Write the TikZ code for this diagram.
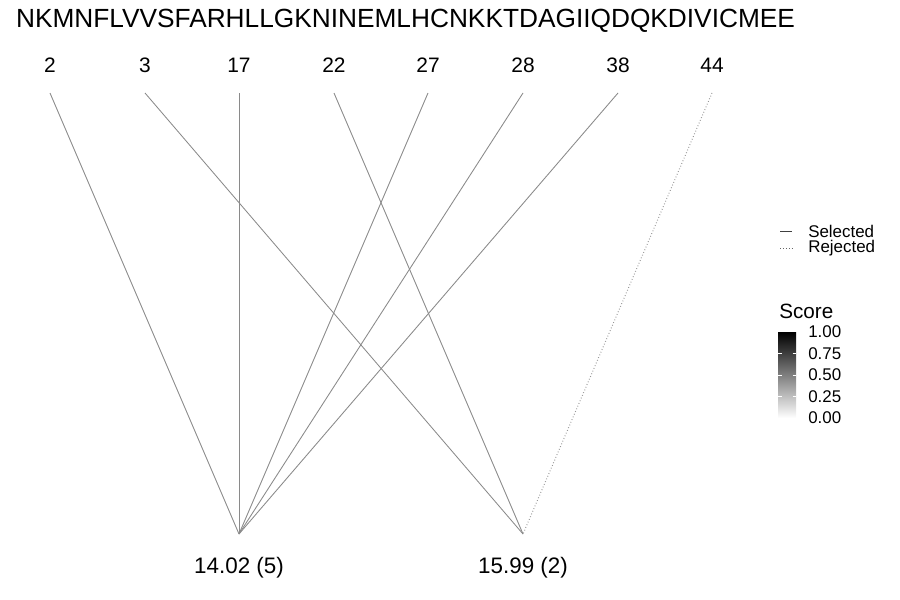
\documentclass[tikz,border=0pt]{standalone}
\usepackage{fontspec}
\setmainfont{Liberation Sans}
\usetikzlibrary{positioning}
\definecolor{edgegray}{RGB}{138,138,138}
\definecolor{rejgray}{RGB}{150,150,150}
\tikzset{
  seqtext/.style={font=\fontsize{19.7}{22}\selectfont,inner sep=0pt},
  poslabel/.style={font=\fontsize{15.7}{17}\selectfont,inner sep=0pt},
  masslabel/.style={font=\fontsize{16.8}{18}\selectfont,inner sep=0pt},
  legtext/.style={font=\fontsize{12.7}{14}\selectfont,inner sep=0pt,anchor=west},
  legtitle/.style={font=\fontsize{15.5}{17}\selectfont,inner sep=0pt,anchor=west},
  sel/.style={draw=edgegray,line width=0.65pt},
  rej/.style={draw=rejgray,line width=0.75pt,dash pattern=on 0.6pt off 1.6pt}
}
\begin{document}
\begin{tikzpicture}[x=0.75pt,y=-0.75pt]
  \useasboundingbox (0,0) rectangle (900,600);
  % sequence
  \node[seqtext] (seq) at (405.5,21) {NKMNFLVVSFARHLLGKNINEMLHCNKKTDAGIIQDQKDIVICMEE};
  % fragment positions
  \foreach \name/\x in {p2/50,p3/145,p17/239,p22/334,p27/428,p28/523,p38/618,p44/712}{
    \coordinate (\name) at (\x,93);
  }
  \foreach \name/\x/\lab in {p2/50/2,p3/145/3,p17/239/17,p22/334/22,p27/428/27,p28/523/28,p38/618/38,p44/712/44}{
    \node[poslabel] (\name l) at (\x,65) {\lab};
  }
  % masses
  \coordinate (ma) at (239,534);
  \coordinate (mb) at (523,534);
  \node[masslabel] (mal) at (239,568) {14.02 (5)};
  \node[masslabel] (mbl) at (523,568) {15.99 (2)};
  % edges
  \foreach \p in {p2,p17,p27,p28,p38}{
    \draw[sel] (\p) -- (ma);
  }
  \foreach \p in {p3,p22}{
    \draw[sel] (\p) -- (mb);
  }
  \draw[rej] (p44) -- (mb);
  % legend
  \coordinate (ls1) at (780,231);
  \coordinate (ls2) at (792,231);
  \coordinate (lr1) at (780,248);
  \coordinate (lr2) at (792,248);
  \draw[sel,draw=black!75] (ls1) -- (ls2);
  \draw[rej,draw=black!60] (lr1) -- (lr2);
  \node[legtext] (lsel) at (808,231) {Selected};
  \node[legtext] (lrej) at (808,248) {Rejected};
  % score bar
  \node[legtitle] (stitle) at (779,311) {Score};
  \shade[top color=black,bottom color=white] (778,332) rectangle (796,418);
  \foreach \y in {353.5,375,396.5}{
    \draw[white,line width=0.5pt] (778,\y) -- (781.5,\y);
    \draw[white,line width=0.5pt] (792.5,\y) -- (796,\y);
  }
  \foreach \y/\v in {332/1.00,353.5/0.75,375/0.50,396.5/0.25,418/0.00}{
    \node[legtext] at (808,\y) {\v};
  }
\end{tikzpicture}
\end{document}
